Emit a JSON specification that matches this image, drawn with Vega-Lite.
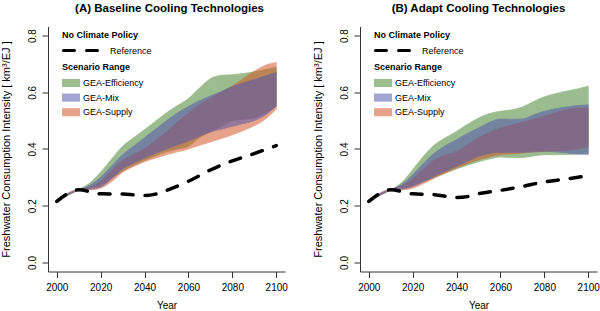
{
  "$schema": "https://vega.github.io/schema/vega-lite/v6.json",
  "padding": {"left": 0, "top": 2.5, "right": 0, "bottom": 0},
  "background": "white",
  "config": {
    "font": "Liberation Sans",
    "view": {"stroke": null},
    "concat": {"spacing": 24},
    "axis": {
      "grid": false,
      "domainColor": "#333333",
      "tickColor": "#333333",
      "labelColor": "#000000",
      "titleColor": "#000000",
      "labelFontSize": 10,
      "titleFontSize": 10,
      "titleFontWeight": "normal",
      "tickSize": 6,
      "labelFont": "Liberation Sans",
      "titleFont": "Liberation Sans"
    },
    "axisX": {"labelPadding": 5, "titlePadding": 8},
    "axisY": {"labelAngle": 270, "labelAlign": "center", "labelBaseline": "alphabetic", "labelPadding": 7, "titlePadding": 16, "titleFontSize": 11},
    "title": {"fontSize": 11.5, "fontWeight": "bold", "color": "#000000", "offset": 12, "font": "Liberation Sans", "frame": "group", "anchor": "middle"},
    "legend": {
      "titleFontSize": 9,
      "titleFontWeight": "bold",
      "titleColor": "#000000",
      "labelFontSize": 9,
      "labelColor": "#000000",
      "padding": 0,
      "titleFont": "Liberation Sans",
      "labelFont": "Liberation Sans"
    }
  },
  "datasets": {
    "bands": [
      {"p": "A", "s": "GEA-Efficiency", "year": 2000, "lo": 0.218, "hi": 0.218},
      {"p": "A", "s": "GEA-Efficiency", "year": 2010, "lo": 0.256, "hi": 0.256},
      {"p": "A", "s": "GEA-Efficiency", "year": 2015, "lo": 0.262, "hi": 0.28},
      {"p": "A", "s": "GEA-Efficiency", "year": 2020, "lo": 0.272, "hi": 0.318},
      {"p": "A", "s": "GEA-Efficiency", "year": 2025, "lo": 0.296, "hi": 0.365},
      {"p": "A", "s": "GEA-Efficiency", "year": 2030, "lo": 0.322, "hi": 0.41},
      {"p": "A", "s": "GEA-Efficiency", "year": 2035, "lo": 0.342, "hi": 0.44},
      {"p": "A", "s": "GEA-Efficiency", "year": 2040, "lo": 0.36, "hi": 0.468},
      {"p": "A", "s": "GEA-Efficiency", "year": 2045, "lo": 0.376, "hi": 0.498},
      {"p": "A", "s": "GEA-Efficiency", "year": 2050, "lo": 0.39, "hi": 0.528},
      {"p": "A", "s": "GEA-Efficiency", "year": 2055, "lo": 0.4, "hi": 0.553},
      {"p": "A", "s": "GEA-Efficiency", "year": 2060, "lo": 0.41, "hi": 0.578},
      {"p": "A", "s": "GEA-Efficiency", "year": 2065, "lo": 0.44, "hi": 0.615},
      {"p": "A", "s": "GEA-Efficiency", "year": 2070, "lo": 0.46, "hi": 0.648},
      {"p": "A", "s": "GEA-Efficiency", "year": 2075, "lo": 0.48, "hi": 0.66},
      {"p": "A", "s": "GEA-Efficiency", "year": 2080, "lo": 0.5, "hi": 0.662},
      {"p": "A", "s": "GEA-Efficiency", "year": 2085, "lo": 0.505, "hi": 0.666},
      {"p": "A", "s": "GEA-Efficiency", "year": 2090, "lo": 0.51, "hi": 0.672},
      {"p": "A", "s": "GEA-Efficiency", "year": 2095, "lo": 0.525, "hi": 0.68},
      {"p": "A", "s": "GEA-Efficiency", "year": 2100, "lo": 0.55, "hi": 0.688},
      {"p": "A", "s": "GEA-Mix", "year": 2000, "lo": 0.218, "hi": 0.218},
      {"p": "A", "s": "GEA-Mix", "year": 2010, "lo": 0.256, "hi": 0.256},
      {"p": "A", "s": "GEA-Mix", "year": 2015, "lo": 0.258, "hi": 0.272},
      {"p": "A", "s": "GEA-Mix", "year": 2020, "lo": 0.266, "hi": 0.3},
      {"p": "A", "s": "GEA-Mix", "year": 2025, "lo": 0.295, "hi": 0.34},
      {"p": "A", "s": "GEA-Mix", "year": 2030, "lo": 0.33, "hi": 0.38},
      {"p": "A", "s": "GEA-Mix", "year": 2035, "lo": 0.35, "hi": 0.41},
      {"p": "A", "s": "GEA-Mix", "year": 2040, "lo": 0.368, "hi": 0.44},
      {"p": "A", "s": "GEA-Mix", "year": 2045, "lo": 0.385, "hi": 0.47},
      {"p": "A", "s": "GEA-Mix", "year": 2050, "lo": 0.4, "hi": 0.5},
      {"p": "A", "s": "GEA-Mix", "year": 2055, "lo": 0.415, "hi": 0.527},
      {"p": "A", "s": "GEA-Mix", "year": 2060, "lo": 0.428, "hi": 0.55},
      {"p": "A", "s": "GEA-Mix", "year": 2065, "lo": 0.445, "hi": 0.57},
      {"p": "A", "s": "GEA-Mix", "year": 2070, "lo": 0.46, "hi": 0.587},
      {"p": "A", "s": "GEA-Mix", "year": 2075, "lo": 0.47, "hi": 0.603},
      {"p": "A", "s": "GEA-Mix", "year": 2080, "lo": 0.48, "hi": 0.62},
      {"p": "A", "s": "GEA-Mix", "year": 2085, "lo": 0.49, "hi": 0.633},
      {"p": "A", "s": "GEA-Mix", "year": 2090, "lo": 0.5, "hi": 0.645},
      {"p": "A", "s": "GEA-Mix", "year": 2095, "lo": 0.52, "hi": 0.657},
      {"p": "A", "s": "GEA-Mix", "year": 2100, "lo": 0.552, "hi": 0.67},
      {"p": "A", "s": "GEA-Supply", "year": 2000, "lo": 0.218, "hi": 0.218},
      {"p": "A", "s": "GEA-Supply", "year": 2010, "lo": 0.256, "hi": 0.256},
      {"p": "A", "s": "GEA-Supply", "year": 2015, "lo": 0.256, "hi": 0.266},
      {"p": "A", "s": "GEA-Supply", "year": 2020, "lo": 0.262, "hi": 0.285},
      {"p": "A", "s": "GEA-Supply", "year": 2025, "lo": 0.285, "hi": 0.325},
      {"p": "A", "s": "GEA-Supply", "year": 2030, "lo": 0.318, "hi": 0.36},
      {"p": "A", "s": "GEA-Supply", "year": 2035, "lo": 0.338, "hi": 0.38},
      {"p": "A", "s": "GEA-Supply", "year": 2040, "lo": 0.355, "hi": 0.4},
      {"p": "A", "s": "GEA-Supply", "year": 2045, "lo": 0.368, "hi": 0.43},
      {"p": "A", "s": "GEA-Supply", "year": 2050, "lo": 0.38, "hi": 0.462},
      {"p": "A", "s": "GEA-Supply", "year": 2055, "lo": 0.39, "hi": 0.495},
      {"p": "A", "s": "GEA-Supply", "year": 2060, "lo": 0.4, "hi": 0.527},
      {"p": "A", "s": "GEA-Supply", "year": 2065, "lo": 0.413, "hi": 0.555},
      {"p": "A", "s": "GEA-Supply", "year": 2070, "lo": 0.425, "hi": 0.58},
      {"p": "A", "s": "GEA-Supply", "year": 2075, "lo": 0.437, "hi": 0.6},
      {"p": "A", "s": "GEA-Supply", "year": 2080, "lo": 0.45, "hi": 0.622},
      {"p": "A", "s": "GEA-Supply", "year": 2085, "lo": 0.465, "hi": 0.648},
      {"p": "A", "s": "GEA-Supply", "year": 2090, "lo": 0.482, "hi": 0.674},
      {"p": "A", "s": "GEA-Supply", "year": 2095, "lo": 0.505, "hi": 0.695},
      {"p": "A", "s": "GEA-Supply", "year": 2100, "lo": 0.54, "hi": 0.705},
      {"p": "B", "s": "GEA-Efficiency", "year": 2000, "lo": 0.218, "hi": 0.218},
      {"p": "B", "s": "GEA-Efficiency", "year": 2010, "lo": 0.256, "hi": 0.256},
      {"p": "B", "s": "GEA-Efficiency", "year": 2015, "lo": 0.262, "hi": 0.282},
      {"p": "B", "s": "GEA-Efficiency", "year": 2020, "lo": 0.27, "hi": 0.327},
      {"p": "B", "s": "GEA-Efficiency", "year": 2025, "lo": 0.285, "hi": 0.375},
      {"p": "B", "s": "GEA-Efficiency", "year": 2030, "lo": 0.3, "hi": 0.415},
      {"p": "B", "s": "GEA-Efficiency", "year": 2035, "lo": 0.315, "hi": 0.44},
      {"p": "B", "s": "GEA-Efficiency", "year": 2040, "lo": 0.33, "hi": 0.462},
      {"p": "B", "s": "GEA-Efficiency", "year": 2045, "lo": 0.343, "hi": 0.487},
      {"p": "B", "s": "GEA-Efficiency", "year": 2050, "lo": 0.355, "hi": 0.509},
      {"p": "B", "s": "GEA-Efficiency", "year": 2055, "lo": 0.365, "hi": 0.525},
      {"p": "B", "s": "GEA-Efficiency", "year": 2060, "lo": 0.372, "hi": 0.533},
      {"p": "B", "s": "GEA-Efficiency", "year": 2065, "lo": 0.37, "hi": 0.538},
      {"p": "B", "s": "GEA-Efficiency", "year": 2070, "lo": 0.37, "hi": 0.548},
      {"p": "B", "s": "GEA-Efficiency", "year": 2075, "lo": 0.375, "hi": 0.567},
      {"p": "B", "s": "GEA-Efficiency", "year": 2080, "lo": 0.38, "hi": 0.584},
      {"p": "B", "s": "GEA-Efficiency", "year": 2085, "lo": 0.38, "hi": 0.595},
      {"p": "B", "s": "GEA-Efficiency", "year": 2090, "lo": 0.38, "hi": 0.604},
      {"p": "B", "s": "GEA-Efficiency", "year": 2095, "lo": 0.382, "hi": 0.612},
      {"p": "B", "s": "GEA-Efficiency", "year": 2100, "lo": 0.385, "hi": 0.621},
      {"p": "B", "s": "GEA-Mix", "year": 2000, "lo": 0.218, "hi": 0.218},
      {"p": "B", "s": "GEA-Mix", "year": 2010, "lo": 0.256, "hi": 0.256},
      {"p": "B", "s": "GEA-Mix", "year": 2015, "lo": 0.258, "hi": 0.275},
      {"p": "B", "s": "GEA-Mix", "year": 2020, "lo": 0.268, "hi": 0.309},
      {"p": "B", "s": "GEA-Mix", "year": 2025, "lo": 0.285, "hi": 0.35},
      {"p": "B", "s": "GEA-Mix", "year": 2030, "lo": 0.304, "hi": 0.386},
      {"p": "B", "s": "GEA-Mix", "year": 2035, "lo": 0.322, "hi": 0.412},
      {"p": "B", "s": "GEA-Mix", "year": 2040, "lo": 0.339, "hi": 0.433},
      {"p": "B", "s": "GEA-Mix", "year": 2045, "lo": 0.357, "hi": 0.455},
      {"p": "B", "s": "GEA-Mix", "year": 2050, "lo": 0.374, "hi": 0.474},
      {"p": "B", "s": "GEA-Mix", "year": 2055, "lo": 0.384, "hi": 0.494},
      {"p": "B", "s": "GEA-Mix", "year": 2060, "lo": 0.388, "hi": 0.506},
      {"p": "B", "s": "GEA-Mix", "year": 2065, "lo": 0.388, "hi": 0.505},
      {"p": "B", "s": "GEA-Mix", "year": 2070, "lo": 0.388, "hi": 0.506},
      {"p": "B", "s": "GEA-Mix", "year": 2075, "lo": 0.39, "hi": 0.52},
      {"p": "B", "s": "GEA-Mix", "year": 2080, "lo": 0.392, "hi": 0.533},
      {"p": "B", "s": "GEA-Mix", "year": 2085, "lo": 0.39, "hi": 0.542},
      {"p": "B", "s": "GEA-Mix", "year": 2090, "lo": 0.386, "hi": 0.548},
      {"p": "B", "s": "GEA-Mix", "year": 2095, "lo": 0.382, "hi": 0.553},
      {"p": "B", "s": "GEA-Mix", "year": 2100, "lo": 0.38, "hi": 0.556},
      {"p": "B", "s": "GEA-Supply", "year": 2000, "lo": 0.218, "hi": 0.218},
      {"p": "B", "s": "GEA-Supply", "year": 2010, "lo": 0.256, "hi": 0.256},
      {"p": "B", "s": "GEA-Supply", "year": 2015, "lo": 0.256, "hi": 0.27},
      {"p": "B", "s": "GEA-Supply", "year": 2020, "lo": 0.262, "hi": 0.294},
      {"p": "B", "s": "GEA-Supply", "year": 2025, "lo": 0.278, "hi": 0.33},
      {"p": "B", "s": "GEA-Supply", "year": 2030, "lo": 0.298, "hi": 0.362},
      {"p": "B", "s": "GEA-Supply", "year": 2035, "lo": 0.316, "hi": 0.378},
      {"p": "B", "s": "GEA-Supply", "year": 2040, "lo": 0.333, "hi": 0.392},
      {"p": "B", "s": "GEA-Supply", "year": 2045, "lo": 0.348, "hi": 0.415},
      {"p": "B", "s": "GEA-Supply", "year": 2050, "lo": 0.362, "hi": 0.439},
      {"p": "B", "s": "GEA-Supply", "year": 2055, "lo": 0.372, "hi": 0.458},
      {"p": "B", "s": "GEA-Supply", "year": 2060, "lo": 0.38, "hi": 0.474},
      {"p": "B", "s": "GEA-Supply", "year": 2065, "lo": 0.383, "hi": 0.484},
      {"p": "B", "s": "GEA-Supply", "year": 2070, "lo": 0.386, "hi": 0.494},
      {"p": "B", "s": "GEA-Supply", "year": 2075, "lo": 0.39, "hi": 0.505},
      {"p": "B", "s": "GEA-Supply", "year": 2080, "lo": 0.392, "hi": 0.515},
      {"p": "B", "s": "GEA-Supply", "year": 2085, "lo": 0.393, "hi": 0.527},
      {"p": "B", "s": "GEA-Supply", "year": 2090, "lo": 0.395, "hi": 0.539},
      {"p": "B", "s": "GEA-Supply", "year": 2095, "lo": 0.4, "hi": 0.544},
      {"p": "B", "s": "GEA-Supply", "year": 2100, "lo": 0.409, "hi": 0.545}
    ],
    "ref": [
      {"p": "A", "series": "Reference", "year": 2000, "ref": 0.215},
      {"p": "A", "series": "Reference", "year": 2010, "ref": 0.256},
      {"p": "A", "series": "Reference", "year": 2020, "ref": 0.242},
      {"p": "A", "series": "Reference", "year": 2030, "ref": 0.241},
      {"p": "A", "series": "Reference", "year": 2040, "ref": 0.236},
      {"p": "A", "series": "Reference", "year": 2045, "ref": 0.241},
      {"p": "A", "series": "Reference", "year": 2050, "ref": 0.254},
      {"p": "A", "series": "Reference", "year": 2060, "ref": 0.286},
      {"p": "A", "series": "Reference", "year": 2070, "ref": 0.326},
      {"p": "A", "series": "Reference", "year": 2080, "ref": 0.358},
      {"p": "A", "series": "Reference", "year": 2090, "ref": 0.384},
      {"p": "A", "series": "Reference", "year": 2100, "ref": 0.412},
      {"p": "B", "series": "Reference", "year": 2000, "ref": 0.215},
      {"p": "B", "series": "Reference", "year": 2010, "ref": 0.256},
      {"p": "B", "series": "Reference", "year": 2020, "ref": 0.242},
      {"p": "B", "series": "Reference", "year": 2030, "ref": 0.239},
      {"p": "B", "series": "Reference", "year": 2040, "ref": 0.229},
      {"p": "B", "series": "Reference", "year": 2045, "ref": 0.232},
      {"p": "B", "series": "Reference", "year": 2050, "ref": 0.242},
      {"p": "B", "series": "Reference", "year": 2060, "ref": 0.254},
      {"p": "B", "series": "Reference", "year": 2070, "ref": 0.268},
      {"p": "B", "series": "Reference", "year": 2080, "ref": 0.284},
      {"p": "B", "series": "Reference", "year": 2090, "ref": 0.294},
      {"p": "B", "series": "Reference", "year": 2100, "ref": 0.306}
    ]
  },
  "resolve": {"scale": {"fill": "independent", "stroke": "independent", "strokeDash": "independent"}, "legend": {"fill": "independent", "strokeDash": "independent"}},
  "hconcat": [
    {
      "title": {"text": "(A) Baseline Cooling Technologies", "dx": 3},
      "width": 237,
      "height": 245,
      "layer": [
        {
          "data": {"name": "bands"},
          "transform": [{"filter": "datum.p === 'A' && datum.s === 'GEA-Efficiency'"}],
          "mark": {"type": "area", "interpolate": "monotone", "opacity": 0.55, "strokeWidth": 0.8},
          "encoding": {
            "x": {"field": "year", "type": "quantitative", "scale": {"domain": [1996, 2104], "nice": false, "zero": false}, "axis": {"values": [2000, 2020, 2040, 2060, 2080, 2100], "format": "d", "title": "Year"}},
            "y": {"field": "lo", "type": "quantitative", "scale": {"domain": [-0.032, 0.832], "nice": false, "zero": false}, "axis": {"values": [0, 0.2, 0.4, 0.6, 0.8], "format": ".1f", "title": "Freshwater Consumption Intensity [ km³/EJ ]"}},
            "y2": {"field": "hi"},
            "fill": {"field": "s", "type": "nominal", "scale": {"domain": ["GEA-Efficiency", "GEA-Mix", "GEA-Supply"], "range": ["#4B8732", "#5555AF", "#D2582A"]}, "legend": {"title": "Scenario Range", "orient": "none", "legendX": 14, "legendY": 36.5, "symbolType": "M-1,-0.45H1V0.45H-1Z", "symbolSize": 324, "symbolOpacity": 0.55, "symbolStrokeWidth": 0, "labelOffset": 3, "titlePadding": 2, "rowPadding": 0.6}},
            "stroke": {"field": "s", "type": "nominal", "scale": {"domain": ["GEA-Efficiency", "GEA-Mix", "GEA-Supply"], "range": ["#4B8732", "#5555AF", "#D2582A"]}, "legend": null}
          }
        },
        {
          "data": {"name": "bands"},
          "transform": [{"filter": "datum.p === 'A' && datum.s === 'GEA-Supply'"}],
          "mark": {"type": "area", "interpolate": "monotone", "opacity": 0.55, "strokeWidth": 0.8},
          "encoding": {
            "x": {"field": "year", "type": "quantitative"},
            "y": {"field": "lo", "type": "quantitative", "axis": {"title": "Freshwater Consumption Intensity [ km³/EJ ]"}},
            "y2": {"field": "hi"},
            "fill": {"field": "s", "type": "nominal"},
            "stroke": {"field": "s", "type": "nominal", "legend": null}
          }
        },
        {
          "data": {"name": "bands"},
          "transform": [{"filter": "datum.p === 'A' && datum.s === 'GEA-Mix'"}],
          "mark": {"type": "area", "interpolate": "monotone", "opacity": 0.55, "strokeWidth": 0.8},
          "encoding": {
            "x": {"field": "year", "type": "quantitative"},
            "y": {"field": "lo", "type": "quantitative", "axis": {"title": "Freshwater Consumption Intensity [ km³/EJ ]"}},
            "y2": {"field": "hi"},
            "fill": {"field": "s", "type": "nominal"},
            "stroke": {"field": "s", "type": "nominal", "legend": null}
          }
        },
        {
          "data": {"name": "ref"},
          "transform": [{"filter": "datum.p === 'A'"}],
          "mark": {"type": "line", "interpolate": "monotone", "strokeWidth": 3.5, "strokeCap": "round", "color": "#000000"},
          "encoding": {
            "x": {"field": "year", "type": "quantitative"},
            "y": {"field": "ref", "type": "quantitative", "axis": {"title": "Freshwater Consumption Intensity [ km³/EJ ]"}},
            "strokeDash": {"field": "series", "type": "nominal", "scale": {"domain": ["Reference"], "range": [[11, 12]]}, "legend": {"title": "No Climate Policy", "orient": "none", "legendX": 14, "legendY": 4.5, "symbolType": "stroke", "symbolSize": 1600, "symbolStrokeWidth": 3, "symbolStrokeColor": "#000000", "labelOffset": 5, "titlePadding": -11, "encode": {"symbols": {"update": {"strokeDash": {"value": [6, 10]}, "strokeCap": {"value": "round"}}}}}}
          }
        }
      ]
    },
    {
      "title": {"text": "(B) Adapt Cooling Technologies"},
      "width": 237,
      "height": 245,
      "layer": [
        {
          "data": {"name": "bands"},
          "transform": [{"filter": "datum.p === 'B' && datum.s === 'GEA-Efficiency'"}],
          "mark": {"type": "area", "interpolate": "monotone", "opacity": 0.55, "strokeWidth": 0.8},
          "encoding": {
            "x": {"field": "year", "type": "quantitative", "scale": {"domain": [1996, 2104], "nice": false, "zero": false}, "axis": {"values": [2000, 2020, 2040, 2060, 2080, 2100], "format": "d", "title": "Year"}},
            "y": {"field": "lo", "type": "quantitative", "scale": {"domain": [-0.032, 0.832], "nice": false, "zero": false}, "axis": {"values": [0, 0.2, 0.4, 0.6, 0.8], "format": ".1f", "title": "Freshwater Consumption Intensity [ km³/EJ ]"}},
            "y2": {"field": "hi"},
            "fill": {"field": "s", "type": "nominal", "scale": {"domain": ["GEA-Efficiency", "GEA-Mix", "GEA-Supply"], "range": ["#4B8732", "#5555AF", "#D2582A"]}, "legend": {"title": "Scenario Range", "orient": "none", "legendX": 14, "legendY": 36.5, "symbolType": "M-1,-0.45H1V0.45H-1Z", "symbolSize": 324, "symbolOpacity": 0.55, "symbolStrokeWidth": 0, "labelOffset": 3, "titlePadding": 2, "rowPadding": 0.6}},
            "stroke": {"field": "s", "type": "nominal", "scale": {"domain": ["GEA-Efficiency", "GEA-Mix", "GEA-Supply"], "range": ["#4B8732", "#5555AF", "#D2582A"]}, "legend": null}
          }
        },
        {
          "data": {"name": "bands"},
          "transform": [{"filter": "datum.p === 'B' && datum.s === 'GEA-Supply'"}],
          "mark": {"type": "area", "interpolate": "monotone", "opacity": 0.55, "strokeWidth": 0.8},
          "encoding": {
            "x": {"field": "year", "type": "quantitative"},
            "y": {"field": "lo", "type": "quantitative", "axis": {"title": "Freshwater Consumption Intensity [ km³/EJ ]"}},
            "y2": {"field": "hi"},
            "fill": {"field": "s", "type": "nominal"},
            "stroke": {"field": "s", "type": "nominal", "legend": null}
          }
        },
        {
          "data": {"name": "bands"},
          "transform": [{"filter": "datum.p === 'B' && datum.s === 'GEA-Mix'"}],
          "mark": {"type": "area", "interpolate": "monotone", "opacity": 0.55, "strokeWidth": 0.8},
          "encoding": {
            "x": {"field": "year", "type": "quantitative"},
            "y": {"field": "lo", "type": "quantitative", "axis": {"title": "Freshwater Consumption Intensity [ km³/EJ ]"}},
            "y2": {"field": "hi"},
            "fill": {"field": "s", "type": "nominal"},
            "stroke": {"field": "s", "type": "nominal", "legend": null}
          }
        },
        {
          "data": {"name": "ref"},
          "transform": [{"filter": "datum.p === 'B'"}],
          "mark": {"type": "line", "interpolate": "monotone", "strokeWidth": 3.5, "strokeCap": "round", "color": "#000000"},
          "encoding": {
            "x": {"field": "year", "type": "quantitative"},
            "y": {"field": "ref", "type": "quantitative", "axis": {"title": "Freshwater Consumption Intensity [ km³/EJ ]"}},
            "strokeDash": {"field": "series", "type": "nominal", "scale": {"domain": ["Reference"], "range": [[11, 12]]}, "legend": {"title": "No Climate Policy", "orient": "none", "legendX": 14, "legendY": 4.5, "symbolType": "stroke", "symbolSize": 1600, "symbolStrokeWidth": 3, "symbolStrokeColor": "#000000", "labelOffset": 5, "titlePadding": -11, "encode": {"symbols": {"update": {"strokeDash": {"value": [6, 10]}, "strokeCap": {"value": "round"}}}}}}
          }
        }
      ]
    }
  ]
}
